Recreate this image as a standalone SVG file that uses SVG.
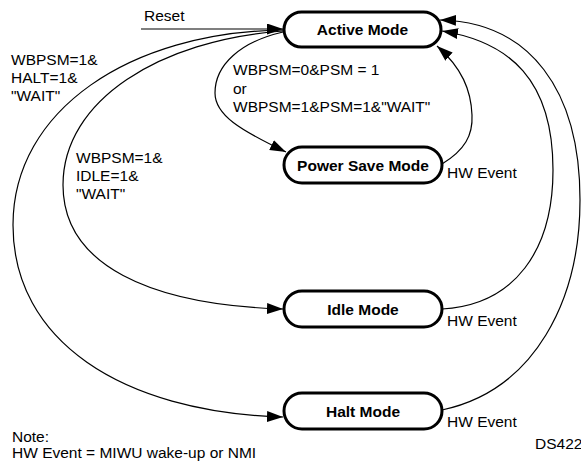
<svg xmlns="http://www.w3.org/2000/svg" width="581" height="463" viewBox="0 0 581 463">
<style>
text{font-family:"Liberation Sans",Arial,sans-serif;font-size:15.5px;fill:#000}
.n rect{fill:#fff;stroke:#000;stroke-width:3}
.n text{font-weight:bold;text-anchor:middle}
.c path,.c line{fill:none;stroke:#000;stroke-width:1.2}
</style>
<defs>
<marker id="ah" markerUnits="userSpaceOnUse" markerWidth="17" markerHeight="12" refX="16" refY="5.5" orient="auto">
<path d="M0,0 L16,5.5 L0,11 z" fill="#000"/>
</marker>
</defs>
<rect width="581" height="463" fill="#fff"/>
<g class="c" id="connectors">
<line x1="141" y1="29" x2="283" y2="29" marker-end="url(#ah)"/>
<path d="M283,30 C130,32 13,110 13,225 C13,340 120,412 283,417" marker-end="url(#ah)"/>
<path d="M283,31 C160,40 63,100 63,185 C63,265 150,305 283,309" marker-end="url(#ah)"/>
<path d="M283,32 C240,42 215,65 215,93 C215,115 240,130 286,152" marker-end="url(#ah)"/>
<path d="M442,164 C465,150 473,135 472,115 C471,90 462,68 437,46" marker-end="url(#ah)"/>
<path d="M442,309 C515,305 553,250 553,170 C553,80 510,42 442,31" marker-end="url(#ah)"/>
<path d="M442,410 C535,390 580,300 580,200 C580,90 530,22 440,20" marker-end="url(#ah)"/>
</g>
<g class="n" id="active"><rect x="284" y="12" width="157" height="35" rx="17.5"/><text x="362.5" y="35">Active Mode</text></g>
<g class="n" id="powersave"><rect x="284" y="147" width="158" height="36" rx="18"/><text x="363" y="171">Power Save Mode</text></g>
<g class="n" id="idle"><rect x="284" y="291" width="158" height="36" rx="18"/><text x="363" y="315">Idle Mode</text></g>
<g class="n" id="halt"><rect x="284" y="393" width="158" height="36" rx="18"/><text x="363" y="417">Halt Mode</text></g>
<g id="labels">
<text x="144" y="21">Reset</text>
<text x="11" y="65">WBPSM=1&amp;</text>
<text x="11" y="83">HALT=1&amp;</text>
<text x="11" y="101">"WAIT"</text>
<text x="233" y="75">WBPSM=0&amp;PSM = 1</text>
<text x="233" y="94">or</text>
<text x="233" y="112">WBPSM=1&amp;PSM=1&amp;"WAIT"</text>
<text x="76" y="163">WBPSM=1&amp;</text>
<text x="76" y="181">IDLE=1&amp;</text>
<text x="76" y="199">"WAIT"</text>
<text x="447" y="178">HW Event</text>
<text x="447" y="326">HW Event</text>
<text x="447" y="427">HW Event</text>
<text x="12" y="442">Note:</text>
<text x="12" y="458">HW Event = MIWU wake-up or NMI</text>
<text x="535" y="449">DS422</text>
</g>
</svg>
